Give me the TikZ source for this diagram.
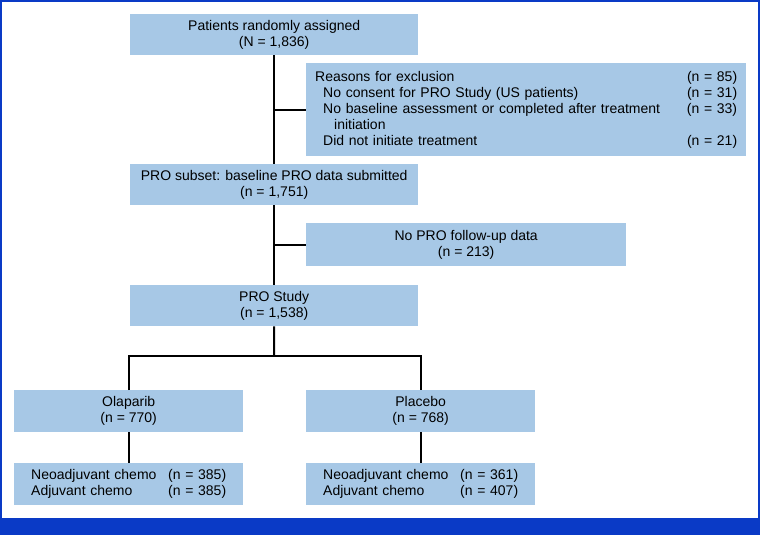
\documentclass[tikz,border=0pt]{standalone}
\usepackage{fontspec}
\setmainfont{Liberation Sans}
\definecolor{boxblue}{HTML}{A7C8E6}
\definecolor{frameblue}{HTML}{0A3AC6}
\tikzset{
  flowbox/.style={fill=boxblue, anchor=north west, minimum height=41pt, align=center, inner sep=0pt},
  listbox/.style={fill=boxblue, anchor=north west, align=left, inner xsep=9pt, inner ysep=0pt},
  link/.style={line width=2pt, black},
}
\begin{document}
\begin{tikzpicture}[x=1pt, y=-1pt, font=\fontsize{14}{16}\selectfont]
    \useasboundingbox (0,0) rectangle (760,535);
    %Frame
    \draw[frameblue, line width=2pt] (1,1) rectangle (759,520);
    \fill[frameblue] (0,518) rectangle (760,535);

    %Main column
    \node[flowbox, minimum width=288pt] (assigned) at (130,14) {Patients randomly assigned\\(N = 1,836)};
    \node[flowbox, minimum width=288pt] (subset) at (130,164) {PRO subset: baseline PRO data submitted\\(n = 1,751)};
    \node[flowbox, minimum width=288pt] (study) at (130,285) {PRO Study\\(n = 1,538)};

    %Exclusions
    \node[listbox, text width=422pt, minimum height=93pt] (exclusion) at (306,63) {%
        Reasons for exclusion\hfill(n = 85)\\
        \hspace*{8pt}No consent for PRO Study (US patients)\hfill(n = 31)\\
        \hspace*{8pt}No baseline assessment or completed after treatment\hfill(n = 33)\\
        \hspace*{19pt}initiation\\
        \hspace*{8pt}Did not initiate treatment\hfill(n = 21)};
    \node[flowbox, minimum width=320pt, minimum height=43pt] (nofollow) at (306,223) {No PRO follow-up data\\(n = 213)};

    %Arms
    \node[flowbox, minimum width=229pt, minimum height=42pt] (olaparib) at (14,390) {Olaparib\\(n = 770)};
    \node[flowbox, minimum width=229pt, minimum height=42pt] (placebo) at (306,390) {Placebo\\(n = 768)};
    \node[listbox, inner xsep=17pt, text width=195pt, minimum height=42pt] (olapsub) at (14,463) {%
        Neoadjuvant chemo\hfill(n = 385)\\
        Adjuvant chemo\hfill(n = 385)};
    \node[listbox, inner xsep=17pt, text width=195pt, minimum height=42pt] (placsub) at (306,463) {%
        Neoadjuvant chemo\hfill(n = 361)\\
        Adjuvant chemo\hfill(n = 407)};

    %Connectors
    \draw[link] (assigned.south) -- (subset.north);
    \draw[link] (assigned.south |- exclusion.west) -- (exclusion.west);
    \draw[link] (subset.south) -- (study.north);
    \draw[link] (subset.south |- nofollow.west) -- (nofollow.west);
    \coordinate (split) at (274,356);
    \draw[link] (study.south) -- (split);
    \draw[link] (olaparib.north) |- (split) -| (placebo.north);
    \draw[link] (olaparib.south) -- (olapsub.north);
    \draw[link] (placebo.south) -- (placsub.north);
\end{tikzpicture}
\end{document}
